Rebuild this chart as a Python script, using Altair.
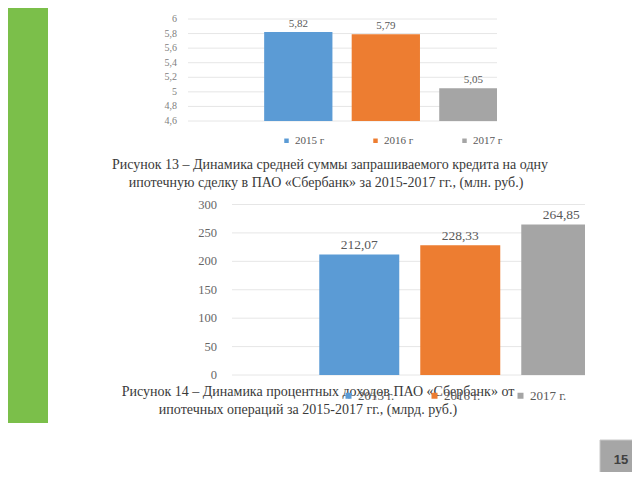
import altair as alt
import pandas as pd

# ---------------- data ----------------
slots = [1, 2, 3]  # category slot 0 is empty in the original chart

years_1 = ["2015 г", "2016 г", "2017 г"]
avg_credit = [5.82, 5.79, 5.05]
avg_credit_labels = ["5,82", "5,79", "5,05"]
y1_ticks = [4.6, 4.8, 5.0, 5.2, 5.4, 5.6, 5.8, 6.0]
y1_tick_labels = ["4,6", "4,8", "5", "5,2", "5,4", "5,6", "5,8", "6"]

years_2 = ["2015 г.", "2016 г.", "2017 г."]
interest_income = [212.07, 228.33, 264.85]
interest_income_labels = ["212,07", "228,33", "264,85"]
y2_ticks = [0, 50, 100, 150, 200, 250, 300]
y2_tick_labels = ["0", "50", "100", "150", "200", "250", "300"]

caption_1 = ["Рисунок 13 – Динамика средней суммы запрашиваемого кредита на одну",
             "ипотечную сделку в ПАО «Сбербанк» за 2015-2017 гг., (млн. руб.)"]
caption_2 = ["Рисунок 14 – Динамика процентных доходов ПАО «Сбербанк» от",
             "ипотечных операций за 2015-2017 гг., (млрд. руб.)"]
page_number = "15"

bar_colors = ["#5b9bd5", "#ed7d31", "#a5a5a5"]
SERIF = "Liberation Serif"


def panel(cats, vals, labels, ticks, tick_labels, xdom, xrng, ydom, yrng, half,
          label_size, tick_size, tick_color, tick_dx, lx, ly, lfont, lpad, lsym):
    bars = pd.DataFrame({"cat": cats, "slot": slots, "value": vals, "label": labels})
    bars["x0"] = bars["slot"] - half
    bars["x1"] = bars["slot"] + half
    bars["base"] = ydom[0]
    grid = pd.DataFrame({"tick": ticks, "tlabel": tick_labels})
    grid["gx0"] = xdom[0]
    grid["gx1"] = xdom[1]

    xs = alt.Scale(domain=xdom, range=xrng, clamp=True, nice=False, zero=False)
    ys = alt.Scale(domain=ydom, range=yrng, nice=False, zero=False)

    rules = alt.Chart(grid).mark_rule(color="#e6e6e6", strokeWidth=1).encode(
        x=alt.X("gx0:Q", scale=xs, axis=None),
        x2="gx1:Q",
        y=alt.Y("tick:Q", scale=ys, axis=None),
    )
    tick_text = alt.Chart(grid).mark_text(
        align="right", baseline="middle", dx=tick_dx, font=SERIF,
        fontSize=tick_size, color=tick_color,
    ).encode(
        x=alt.X("gx0:Q", scale=xs, axis=None),
        y=alt.Y("tick:Q", scale=ys, axis=None),
        text="tlabel:N",
    )
    bar = alt.Chart(bars).mark_bar().encode(
        x=alt.X("x0:Q", scale=xs, axis=None),
        x2="x1:Q",
        y=alt.Y("value:Q", scale=ys, axis=None),
        y2="base:Q",
        color=alt.Color(
            "cat:N",
            scale=alt.Scale(domain=cats, range=bar_colors),
            legend=alt.Legend(
                orient="none", legendX=lx, legendY=ly, direction="horizontal",
                title=None, symbolType="square", symbolSize=lsym,
                symbolStrokeWidth=0, labelFont=SERIF, labelFontSize=lfont,
                labelFontWeight="normal",
                labelColor="#595959", columnPadding=lpad, labelOffset=3,
                padding=0,
            ),
        ),
    )
    val_text = alt.Chart(bars).mark_text(
        baseline="alphabetic", dy=-5, font=SERIF, fontSize=label_size,
        color="#595959",
    ).encode(
        x=alt.X("slot:Q", scale=xs, axis=None),
        y=alt.Y("value:Q", scale=ys, axis=None),
        text="label:N",
    )
    return alt.layer(rules, tick_text, bar, val_text)


top = panel(years_1, avg_credit, avg_credit_labels, y1_ticks, y1_tick_labels,
            [-0.26, 3.27], [180, 489], [4.6, 6.0], [113, 11], 0.39,
            11, 10, "#808080", -11, 273, 127, 11, 45, 20)
bottom = panel(years_2, interest_income, interest_income_labels, y2_ticks,
               y2_tick_labels, [-0.26, 3.235], [224, 577], [0, 300], [367, 196.5],
               0.396, 13.5, 12.5, "#666666", -15, 334, 381, 13, 33, 36)

one = alt.Data(values=[{"k": 1}])
green = alt.Chart(one).mark_rect(color="#7bbf4a").encode(
    x=alt.value(0), x2=alt.value(40), y=alt.value(0), y2=alt.value(415))
box = alt.Chart(one).mark_rect(color="#a6a6a6", stroke="#c8c8c8", strokeWidth=1).encode(
    x=alt.value(592), x2=alt.value(640), y=alt.value(432), y2=alt.value(480))
box_text = alt.Chart(one).mark_text(
    font="Liberation Sans", fontSize=13, fontWeight="bold", color="#404040",
    align="center", baseline="middle").encode(
    x=alt.value(613), y=alt.value(452), text=alt.value(page_number))


def cap(line, x, y):
    return alt.Chart(one).mark_text(
        font=SERIF, fontSize=14, color="#3a3a3a", align="center",
        baseline="middle").encode(x=alt.value(x), y=alt.value(y), text=alt.value(line))


caps = [cap(caption_1[0], 322, 157), cap(caption_1[1], 318, 175),
        cap(caption_2[0], 310, 384), cap(caption_2[1], 300, 402)]

chart = alt.layer(green, box, box_text, top, bottom, *caps).resolve_scale(
    x="independent", y="independent", color="independent"
).properties(
    width=624, height=464, autosize=alt.AutoSizeParams(type="none"), padding=0,
).configure_view(stroke=None).configure_legend(
    labelFont=SERIF, labelFontWeight="normal"
)

chart.save("out.html", embed_options={"renderer": "svg", "actions": False})
